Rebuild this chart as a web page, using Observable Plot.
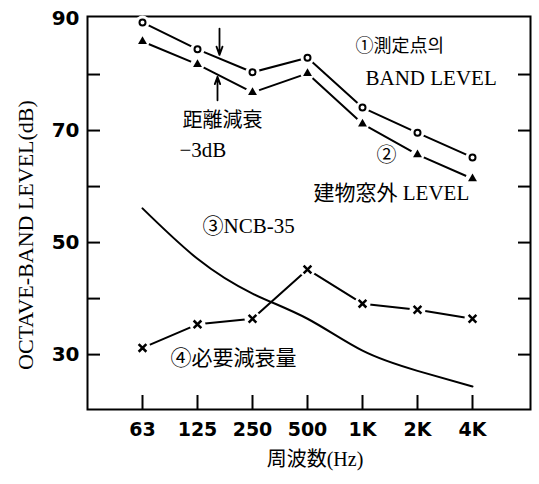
<!DOCTYPE html>
<html>
<head>
<meta charset="utf-8">
<script src="https://cdn.jsdelivr.net/npm/d3@7"></script>
<script src="https://cdn.jsdelivr.net/npm/@observablehq/plot@0.6"></script>
<style>
  html, body { margin: 0; padding: 0; background: #fff; }
  #chart svg { display: block; }
</style>
</head>
<body>
<div id="chart"></div>
<script>
// ---- data ----
const freqs = ["63", "125", "250", "500", "1K", "2K", "4K"];
const bandLevel = [89.3, 84.5, 80.4, 83.0, 74.1, 69.6, 65.2];      // ① 測定点의 BAND LEVEL
const outsideLevel = [85.9, 81.8, 76.8, 80.2, 71.2, 65.7, 61.4];   // ② 建物窓外 LEVEL
const ncb35 = [56.1, 47.1, 40.9, 36.4, 30.7, 27.1, 24.3];          // ③ NCB-35
const requiredAtten = [31.2, 35.4, 36.4, 45.2, 39.1, 38.0, 36.4];  // ④ 必要減衰量
const yTickLabels = [30, 50, 70, 90];
const yMinorTicks = [30, 40, 50, 60, 70, 80];

const rows = (vals) => freqs.map((f, i) => ({f, v: vals[i]}));
const s1 = rows(bandLevel), s2 = rows(outsideLevel), s3 = rows(ncb35), s4 = rows(requiredAtten);

const serif = "'Liberation Serif', 'Noto Sans CJK KR', serif";
const cjk = "'Liberation Serif', 'Noto Sans CJK KR', 'Noto Sans CJK JP', serif";
const sans = "'DejaVu Sans', sans-serif";

const chart = Plot.plot({
  width: 539,
  height: 484,
  marginLeft: 87,
  marginRight: 9,
  marginTop: 16,
  marginBottom: 75,
  style: {background: "#fff", color: "#000"},
  x: {type: "point", domain: freqs, range: [140, 474], padding: 0},
  y: {domain: [20.2, 90.36]},
  marks: [
    Plot.frame({stroke: "#000", strokeWidth: 2}),
    // inward ticks
    Plot.axisY({ticks: yMinorTicks, anchor: "left", tickSize: -13, tickFormat: () => "", strokeWidth: 2, label: null}),
    Plot.axisY({ticks: yMinorTicks, anchor: "right", tickSize: -13, tickFormat: () => "", strokeWidth: 2, label: null}),
    Plot.axisY({ticks: yTickLabels, anchor: "left", tickSize: 0, tickPadding: 8, fontSize: 20, fontWeight: "bold", fontFamily: sans, label: null}),
    Plot.axisX({anchor: "bottom", tickSize: -14, tickFormat: () => "", strokeWidth: 2, label: null}),
    Plot.axisX({anchor: "bottom", tickSize: 0, tickPadding: 13, fontSize: 19, fontWeight: "bold", fontFamily: sans, label: null}),

    // ③ NCB-35 curve
    Plot.line(s3, {x: "f", y: "v", curve: "natural", stroke: "#000", strokeWidth: 2}),

    // lines with gaps at markers
    Plot.line(s1, {x: "f", y: "v", stroke: "#000", strokeWidth: 2}),
    Plot.line(s2, {x: "f", y: "v", stroke: "#000", strokeWidth: 2}),
    Plot.line(s4, {x: "f", y: "v", stroke: "#000", strokeWidth: 2}),
    Plot.dot(s1, {x: "f", y: "v", r: 7, fill: "#fff", stroke: "none"}),
    Plot.dot(s2, {x: "f", y: "v", r: 7, fill: "#fff", stroke: "none"}),
    Plot.dot(s4, {x: "f", y: "v", r: 8, fill: "#fff", stroke: "none"}),
    Plot.dot(s1, {x: "f", y: "v", r: 3, fill: "#fff", stroke: "#000", strokeWidth: 2}),
    Plot.dot(s2, {x: "f", y: "v", r: 3.3, symbol: "triangle", fill: "#000", stroke: "none"}),
    Plot.dot(s4, {x: "f", y: "v", r: 3.6, symbol: "times", stroke: "#000", strokeWidth: 2.5}),

    // distance attenuation arrows
    Plot.arrow([{x: "125", y1: 88.2, y2: 83.5}], {x: "x", y1: "y1", y2: "y2", dx: 22, stroke: "#000", strokeWidth: 1.8, headLength: 9, headAngle: 40}),
    Plot.arrow([{x: "125", y1: 75.4, y2: 79.6}], {x: "x", y1: "y1", y2: "y2", dx: 20, stroke: "#000", strokeWidth: 1.8, headLength: 9, headAngle: 40}),

    // annotations
    Plot.text(["距離減衰"], {x: () => "125", y: () => 71.8, dx: -15, textAnchor: "start", fontSize: 20, fontFamily: cjk}),
    Plot.text(["−3dB"], {x: () => "125", y: () => 66.4, dx: -18, textAnchor: "start", fontSize: 21, fontFamily: serif}),
    Plot.text(["①測定点의"], {x: () => "1K", y: () => 85.0, dx: -7, textAnchor: "start", fontSize: 18, fontFamily: cjk}),
    Plot.text(["BAND LEVEL"], {x: () => "1K", y: () => 79.3, dx: 3, textAnchor: "start", fontSize: 21, letterSpacing: 1.5, fontFamily: serif}),
    Plot.text(["②"], {x: () => "1K", y: () => 65.5, dx: 24, textAnchor: "middle", fontSize: 20, fontFamily: cjk}),
    Plot.text(["建物窓外 LEVEL"], {x: () => "1K", y: () => 58.8, dx: -49, textAnchor: "start", fontSize: 21, letterSpacing: 0.5, fontFamily: cjk}),
    Plot.text(["③NCB-35"], {x: () => "250", y: () => 53.0, dx: -50, textAnchor: "start", fontSize: 21, fontFamily: cjk}),
    Plot.text(["④必要減衰量"], {x: () => "125", y: () => 29.3, dx: -27, textAnchor: "start", fontSize: 21, letterSpacing: 1.5, fontFamily: cjk}),

    // axis titles
    Plot.text(["OCTAVE-BAND LEVEL(dB)"], {frameAnchor: "left", textAnchor: "middle", dx: -62, dy: 22, rotate: -90, fontSize: 22, fontFamily: serif}),
    Plot.text(["周波数(Hz)"], {frameAnchor: "bottom", textAnchor: "middle", dx: 6, dy: 56, fontSize: 20, fontFamily: cjk})
  ]
});
document.getElementById("chart").appendChild(chart);
</script>
</body>
</html>
